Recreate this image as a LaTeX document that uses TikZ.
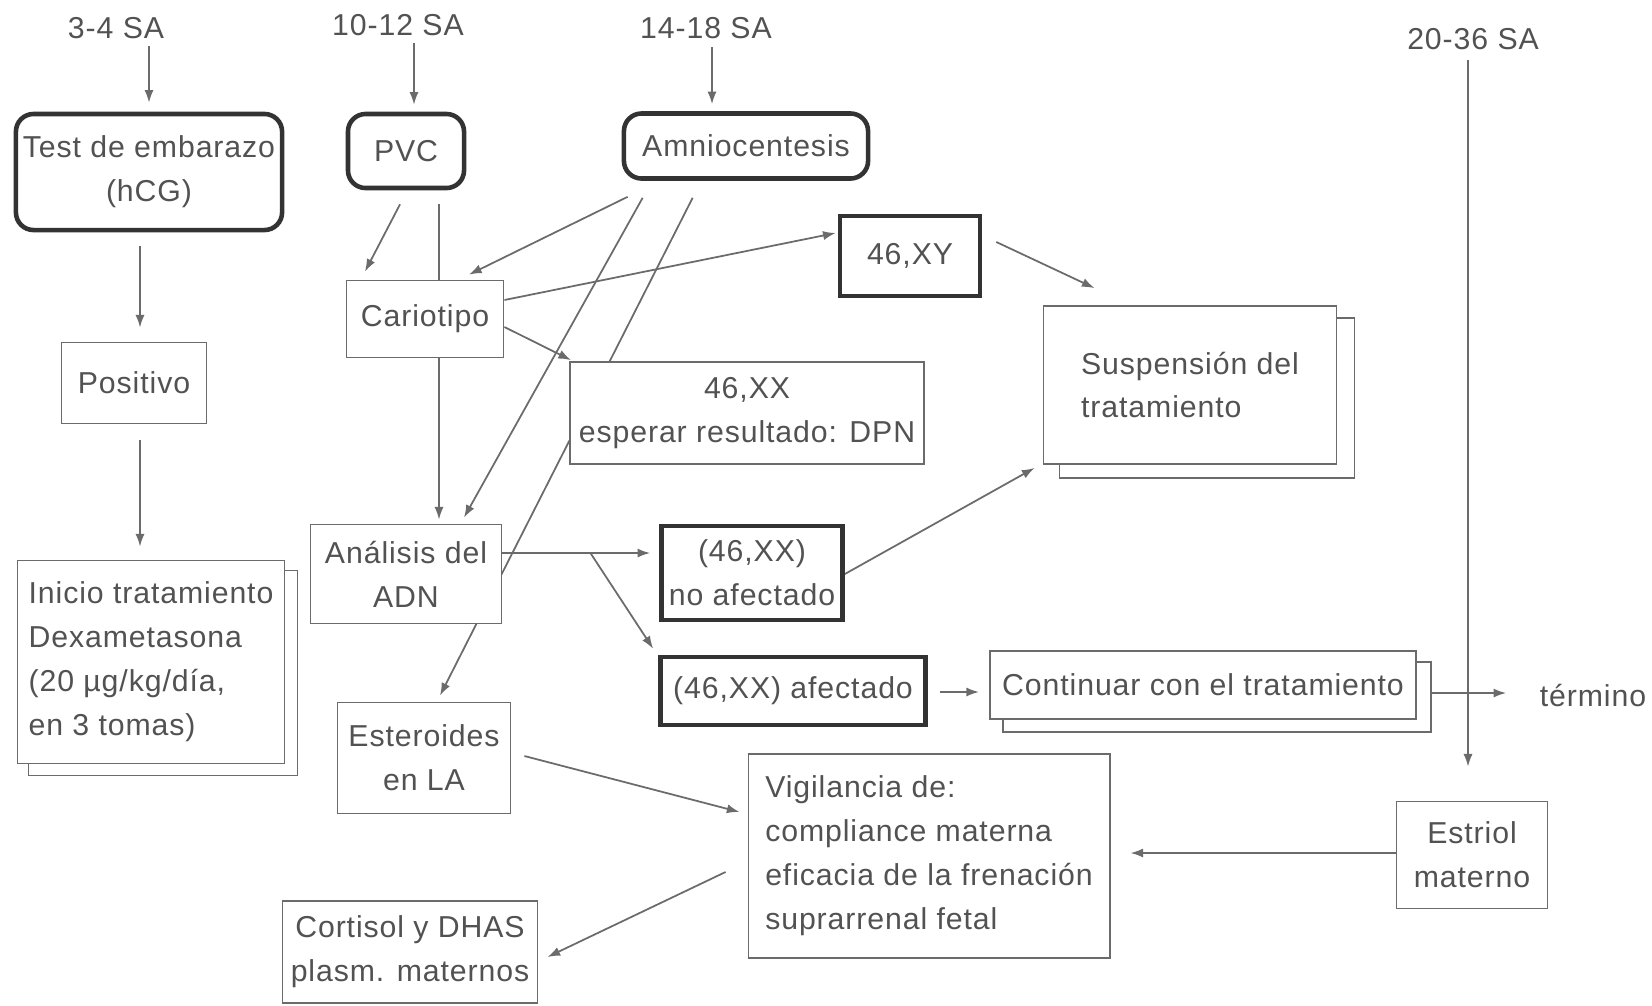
\documentclass[tikz,border=0pt]{standalone}
\usepackage{fontspec}
\setmainfont[LetterSpace=3]{Liberation Sans}
\usepackage{xcolor}
\usepackage{tikz}
\usetikzlibrary{positioning}
\usetikzlibrary{arrows.meta, calc, backgrounds}

\definecolor{inkgray}{gray}{0.32}
\definecolor{linegray}{gray}{0.42}

\begin{document}
\begin{tikzpicture}[x=0.01cm, y=-0.01cm,
            every node/.style={font=\fontsize{8.6}{12.5}\selectfont, text=inkgray},
            plainbox/.style={draw=linegray, line width=0.5pt, fill=white, inner sep=0pt, align=center},
            keybox/.style={draw=black!80, line width=1.3pt, fill=white, inner sep=0pt, align=center},
            testbox/.style={keybox, rounded corners=5pt},
            weeklabel/.style={inner sep=0pt},
            arr/.style={draw=linegray, line width=0.5pt, -{Latex[length=3.6pt, width=2.6pt]}},
            link/.style={draw=linegray, line width=0.5pt}]
            \useasboundingbox (0,0) rectangle (1652,1005);

            \node[weeklabel] (w34) at (116,28) {3-4 SA};
            \node[weeklabel] (w1012) at (398,25) {10-12 SA};
            \node[weeklabel] (w1418) at (706,28) {14-18 SA};
            \node[weeklabel] (w2036) at (1473,39) {20-36 SA};

            \node[testbox, minimum width=2.66cm, minimum height=1.16cm] (test) at (149,172) {Test de embarazo\\(hCG)};
            \node[testbox, minimum width=1.16cm, minimum height=0.74cm] (pvc) at (406,151) {PVC};
            \node[testbox, minimum width=2.44cm, minimum height=0.65cm] (amnio) at (746,146) {Amniocentesis};

            \node[plainbox, minimum width=1.57cm, minimum height=0.77cm] (cario) at (425,319) {Cariotipo};
            \node[keybox, minimum width=1.40cm, minimum height=0.80cm] (xy) at (910,256) {46,XY};
            \node[plainbox, minimum width=3.54cm, minimum height=1.02cm] (xx) at (747,413) {46,XX\\esperar resultado: DPN};
            \node[plainbox, minimum width=2.93cm, minimum height=1.58cm, align=left] (susp) at (1190,385) {Suspensión del\\tratamiento};
            \node[plainbox, minimum width=1.45cm, minimum height=0.81cm] (posit) at (134,383) {Positivo};
            \node[plainbox, minimum width=2.67cm, minimum height=2.03cm, align=left] (inicio) at (151,662) {Inicio tratamiento\\Dexametasona\\(20 µg/kg/día,\\en 3 tomas)};
            \node[plainbox, minimum width=1.91cm, minimum height=0.99cm] (adn) at (406,574) {Análisis del\\ADN};
            \node[keybox, minimum width=1.81cm, minimum height=0.94cm] (noaf) at (752,573) {(46,XX)\\no afectado};
            \node[keybox, minimum width=2.65cm, minimum height=0.68cm] (af) at (793,691) {(46,XX) afectado};
            \node[plainbox, minimum width=4.26cm, minimum height=0.68cm] (cont) at (1203,685) {Continuar con el tratamiento};
            \node[weeklabel] (term) at (1593,695) {término};
            \node[plainbox, minimum width=1.73cm, minimum height=1.11cm] (ester) at (424,758) {Esteroides\\en LA};
            \node[plainbox, minimum width=3.61cm, minimum height=2.04cm, align=left] (vig) at (929,856) {Vigilancia de:\\compliance materna\\eficacia de la frenación\\suprarrenal fetal};
            \node[plainbox, minimum width=2.55cm, minimum height=1.02cm] (cort) at (410,952) {Cortisol y DHAS\\plasm. maternos};
            \node[plainbox, minimum width=1.51cm, minimum height=1.07cm] (estriol) at (1472,855) {Estriol\\materno};

            \begin{pgfonlayer}{background}
                % stacked sheets
                \draw[link] ($(inicio.south west)+(12,11)$) rectangle ($(inicio.north east)+(12,11)$);
                \draw[link] ($(susp.south west)+(17,13)$) rectangle ($(susp.north east)+(17,13)$);
                \draw[link] ($(cont.south west)+(14,12)$) rectangle ($(cont.north east)+(14,12)$);

                \draw[arr] ($(w34.south -| test.north)+(0,7)$) -- ($(test.north)+(0,-9)$);
                \draw[arr] ($(w1012.south -| pvc.north)+(8,7)$) -- ($(pvc.north)+(8,-7)$);
                \draw[arr] ($(w1418.south)+(6,8)$) -- ($(w1418.south |- amnio.north)+(6,-7)$);
                \draw[arr] ($(w2036.south)+(-5,10)$) -- ($(w2036.south |- estriol.north)+(-5,-34)$);

                \draw[arr] ($(test.south)+(-9,14)$) -- ($(posit.north)+(6,-14)$);
                \draw[arr] ($(posit.south)+(6,16)$) -- ($(inicio.north)+(-11,-13)$);
                \draw[arr] ($(pvc.south)+(-6,14)$) -- ($(cario.north)+(-60,-8)$);
                \draw[arr] ($(pvc.south)+(33,14)$) -- ($(adn.north)+(33,-4)$);
                \draw[arr] ($(amnio.south west)+(6,16)$) -- ($(cario.north)+(44,-5)$);
                \draw[arr] ($(amnio.south west)+(21,17)$) -- ($(adn.north)+(58,-6)$);
                \draw[arr] ($(amnio.south west)+(71,17)$) -- ($(ester.north)+(16,-6)$);
                \draw[arr] ($(cario.east)+(0,-19)$) -- ($(xy.west)+(-2,-23)$);
                \draw[arr] ($(cario.east)+(0,8)$) -- ($(xx.north west)+(2,-1)$);
                \draw[arr] ($(xy.east)+(14,-14)$) -- ($(susp.north west)+(52,-17)$);
                \coordinate (fork) at ($(adn.east)+(88,-21)$);
                \draw[arr] ($(adn.east)+(0,-21)$) -- ($(noaf.west)+(-9,-20)$);
                \draw[arr] (fork) -- ($(af.north west)+(-5,-6)$);
                \draw[arr] ($(noaf.east)+(0,1)$) -- ($(susp.south west)+(-8,3)$);
                \draw[arr] ($(af.east)+(12,1)$) -- ($(cont.west)+(-10,7)$);
                \draw[arr] ($(cont.east)+(14,8)$) -- ($(term.west)+(-33,-2)$);
                \draw[arr] ($(ester.east)+(13,-2)$) -- ($(vig.west)+(-8,-44)$);
                \draw[arr] ($(vig.west)+(-22,16)$) -- ($(cort.east)+(9,5)$);
                \draw[arr] ($(estriol.west)+(0,-2)$) -- ($(vig.east)+(20,-3)$);
            \end{pgfonlayer}
\end{tikzpicture}
\end{document}
